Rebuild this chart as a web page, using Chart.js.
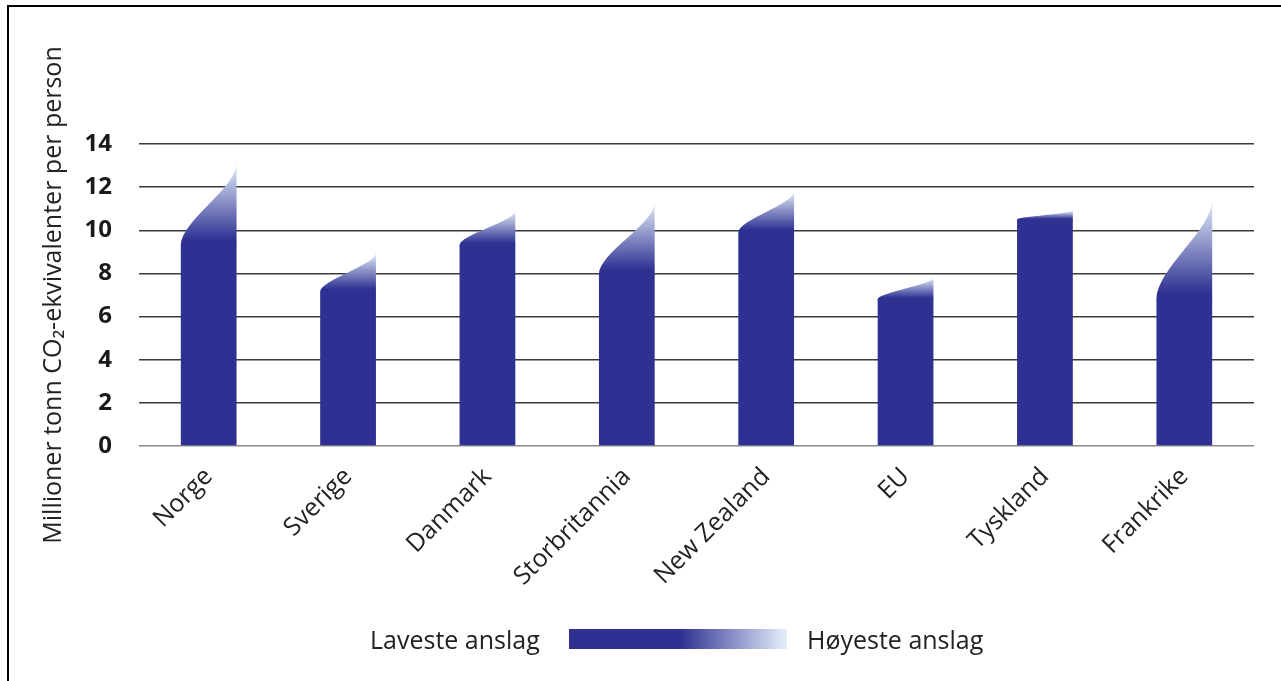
<!DOCTYPE html>
<html>
<head>
<meta charset="utf-8">
<script src="https://cdn.jsdelivr.net/npm/chart.js@4/dist/chart.umd.min.js"></script>
<style>
  html, body { margin: 0; padding: 0; background: #fff; }
  #wrap { position: relative; width: 1281px; height: 681px; overflow: hidden; font-family: "Open Sans", sans-serif; }
  #frame { position: absolute; left: 7px; top: 5px; width: 1400px; height: 800px; border-left: 2px solid #000; border-top: 2px solid #000; pointer-events: none; }
  canvas { position: absolute; left: 0; top: 0; }
  .lg { position: absolute; top: 622px; font-size: 25px; color: #222; line-height: 34px; white-space: nowrap; }
  #lgbox { position: absolute; left: 569px; top: 629px; width: 218px; height: 20px;
           background: linear-gradient(to right, #2e3192 0%, #2e3192 51%, #e4f0fb 100%); }
</style>
</head>
<body>
<div id="wrap">
  <canvas id="c" width="1281" height="681"></canvas>
  <div id="frame"></div>
  <span class="lg" id="lgLow" style="left:370px">Laveste anslag</span>
  <div id="lgbox"></div>
  <span class="lg" id="lgHigh" style="left:807px">Høyeste anslag</span>
</div>
<script>
// ---- data ----
const categories = ['Norge', 'Sverige', 'Danmark', 'Storbritannia', 'New Zealand', 'EU', 'Tyskland', 'Frankrike'];
const lowEstimate = [9.3, 7.15, 9.3, 7.95, 9.9, 6.8, 10.5, 6.8];
const highEstimate = [13.1, 8.95, 10.9, 11.3, 11.8, 7.8, 10.9, 11.4];
const yTicks = [0, 2, 4, 6, 8, 10, 12, 14];
const seriesNames = ['Laveste anslag', 'Høyeste anslag'];
const yTitle = 'Millioner tonn CO\u2082-ekvivalenter per person';

const NAVY = '#2e3192';
const LIGHT = '#e4effa';

const curvedTops = {
  id: 'curvedTops',
  afterDatasetsDraw(chart) {
    const ctx = chart.ctx;
    const meta = chart.getDatasetMeta(1);
    meta.data.forEach(el => {
      const p = el.getProps(['x', 'y', 'base', 'width'], true);
      const x0 = p.x - p.width / 2, x1 = p.x + p.width / 2;
      const yL = p.base, yH = p.y;
      const h = yL - yH;
      const g = ctx.createLinearGradient(0, yL, 0, yH);
      g.addColorStop(0, NAVY);
      g.addColorStop(0.06, NAVY);
      g.addColorStop(1, LIGHT);
      ctx.save();
      ctx.fillStyle = g;
      ctx.beginPath();
      ctx.moveTo(x0, yL + 1);
      ctx.lineTo(x0, yL);
      ctx.bezierCurveTo(x0, yL - 0.3 * h, x1, yH + 0.3 * h, x1, yH);
      ctx.lineTo(x1, yL + 1);
      ctx.closePath();
      ctx.fill();
      ctx.restore();
    });
  }
};

new Chart(document.getElementById('c'), {
  type: 'bar',
  data: {
    labels: categories,
    datasets: [
      {
        label: seriesNames[0],
        data: lowEstimate,
        backgroundColor: NAVY,
        borderWidth: 0,
        barPercentage: 0.4,
        categoryPercentage: 1,
        grouped: false
      },
      {
        label: seriesNames[1],
        data: lowEstimate.map((l, i) => [l, highEstimate[i]]),
        backgroundColor: 'rgba(0,0,0,0)',
        borderWidth: 0,
        barPercentage: 0.4,
        categoryPercentage: 1,
        grouped: false
      }
    ]
  },
  options: {
    responsive: false,
    animation: false,
    events: [],
    layout: { padding: { top: 144, right: 27, bottom: 0, left: 0 } },
    plugins: { legend: { display: false }, tooltip: { enabled: false } },
    scales: {
      x: {
        grid: { display: false, drawTicks: false },
        border: { display: false },
        ticks: {
          minRotation: 45, maxRotation: 45, padding: 16,
          color: '#222',
          font: { family: 'Open Sans', size: 25 }
        },
        afterFit(s) { s.height = 681 - 446; }
      },
      y: {
        min: 0, max: 14,
        afterBuildTicks(s) { s.ticks = yTicks.map(v => ({ value: v })); },
        grid: {
          drawTicks: false,
          color: ctx => ctx.tick && ctx.tick.value === 0 ? '#8a8a8a' : '#3a3a3a',
          lineWidth: 1.5
        },
        border: { display: false },
        ticks: {
          padding: 27,
          color: '#1a1a1a',
          font: { family: 'Open Sans', size: 24, weight: 'bold' }
        },
        title: {
          display: true,
          text: yTitle,
          color: '#222',
          font: { family: 'Open Sans', size: 25 },
          padding: { top: 39, bottom: 0 }
        },
        afterFit(s) { s.width = 139; }
      }
    }
  },
  plugins: [curvedTops]
});
</script>
</body>
</html>
